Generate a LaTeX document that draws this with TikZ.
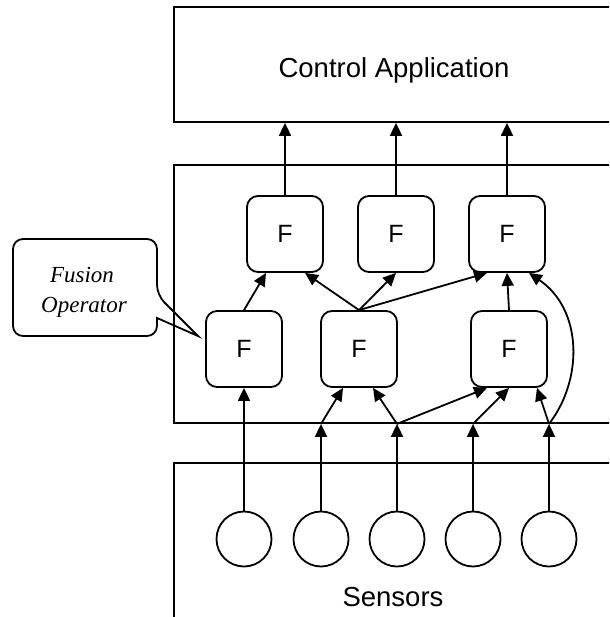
\documentclass[tikz,border=0pt]{standalone}
\usepackage{fontspec}
\setmainfont{Liberation Sans}
\newfontfamily\calloutfont{Liberation Serif}
\usetikzlibrary{arrows.meta}
\begin{document}
\begin{tikzpicture}[x=1pt,y=-1pt,
  line width=1.8pt,
  layer/.style={draw, rectangle, minimum width=440pt, inner sep=0pt},
  fbox/.style={draw, rounded corners=11pt, minimum width=76pt, minimum height=76pt,
    inner sep=0pt, font=\fontsize{25}{30}\selectfont},
  sensor/.style={draw, circle, minimum size=55pt, inner sep=0pt},
  flow/.style={-{Triangle[length=13pt,width=12pt]}},
  big/.style={font=\fontsize{27.5}{32}\selectfont},
  note/.style={font=\calloutfont\itshape\fontsize{23}{28}\selectfont, anchor=base, inner sep=0pt}]

\clip (0,0) rectangle (609,617);

% the three layers (open to the right and at the bottom)
\node[layer, minimum height=115pt] (app) at (394,64.5) {};
\node[big] (applabel) at (394,70) {Control Application};
\node[layer, minimum height=258pt] (fusion) at (394,294) {};
\node[layer, minimum height=240pt] (sens) at (394,583) {};
\node[big] (senslabel) at (393,597) {Sensors};

% fusion operators
\node[fbox] (TF1) at (285,234) {F};
\node[fbox] (TF2) at (396,234) {F};
\node[fbox] (TF3) at (507,234) {F};
\node[fbox] (BF1) at (244,349) {F};
\node[fbox] (BF2) at (359,349) {F};
\node[fbox] (BF3) at (509,349) {F};

% sensors
\foreach \i/\x in {1/244, 2/321, 3/397, 4/473, 5/549}
  \node[sensor] (S\i) at (\x,539) {};
\foreach \i in {2,...,5}
  \coordinate (J\i) at (S\i |- fusion.south);

% sensor inputs
\draw[flow] (S1.north) -- (BF1.south);
\foreach \i in {2,...,5}
  \draw[flow] (S\i.north) -- (J\i);

\draw[flow] (J2) -- ([xshift=-16pt]BF2.south);
\draw[flow] (J3) -- ([xshift=14pt]BF2.south);
\draw[flow] (J3) -- ([xshift=-22pt]BF3.south);
\draw[flow] (J4) -- (BF3.south);
\draw[flow] (J5) -- ([xshift=28pt]BF3.south);
\draw[flow] (J5) .. controls (583,380) and (583,310) .. ([xshift=22pt]TF3.south);

% operator to operator
\draw[flow] (BF1.north) -- ([xshift=-19pt]TF1.south);
\draw[flow] (BF2.north) -- ([xshift=20pt]TF1.south);
\draw[flow] (BF2.north) -- (TF2.south);
\draw[flow] (BF2.north) -- ([xshift=-20pt]TF3.south);
\draw[flow] (BF3.north) -- (TF3.south);

% outputs to the application
\foreach \i in {1,2,3}
  \draw[flow] (TF\i.north) -- (TF\i.north |- app.south);

% callout
\draw (157,318) [rounded corners=10pt] -- (157,336) -- (13,336) -- (13,239)
  -- (157,239) -- (157,295) [sharp corners] -- (198,336) -- cycle;
\node[note] (note1) at (82,282) {Fusion};
\node[note] (note2) at (84,312) {Operator};
\end{tikzpicture}
\end{document}
